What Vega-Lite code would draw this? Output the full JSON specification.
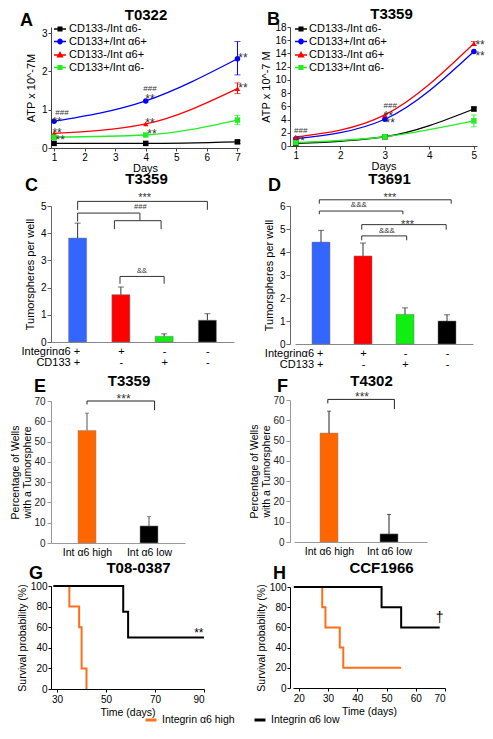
{
  "$schema": "https://vega.github.io/schema/vega-lite/v6.json",
  "padding": {"left": 10, "top": 7, "right": 2, "bottom": 2},
  "columns": 2,
  "bounds": "flush",
  "align": "each",
  "spacing": {"row": 43, "column": 51},
  "resolve": {
    "scale": {"color": "independent", "shape": "independent"},
    "legend": {"color": "independent", "shape": "independent"}
  },
  "config": {
    "font": "Liberation Sans",
    "view": {"stroke": null},
    "axis": {"grid": false, "labelOverlap": false, "labelFontSize": 10, "titleFontSize": 11, "titleFontWeight": "normal", "labelColor": "#000", "titleColor": "#000", "domainColor": "#444", "tickColor": "#444", "tickSize": 3, "labelPadding": 2, "titlePadding": 4},
    "title": {"fontSize": 15, "fontWeight": "bold", "color": "#000", "frame": "group", "baseline": "alphabetic", "anchor": "middle"},
    "legend": {"labelFont": "Liberation Sans", "labelColor": "#000"}
  },
  "datasets": {
    "atpA": [
      {"series": "CD133-/Int α6-", "x": 1, "y": 0.12},
      {"series": "CD133-/Int α6-", "x": 4, "y": 0.12},
      {"series": "CD133-/Int α6-", "x": 7, "y": 0.16, "lo": 0.12, "hi": 0.2},
      {"series": "CD133+/Int α6+", "x": 1, "y": 0.7},
      {"series": "CD133+/Int α6+", "x": 4, "y": 1.23},
      {"series": "CD133+/Int α6+", "x": 7, "y": 2.33, "lo": 1.91, "hi": 2.78},
      {"series": "CD133-/Int α6+", "x": 1, "y": 0.38},
      {"series": "CD133-/Int α6+", "x": 4, "y": 0.63},
      {"series": "CD133-/Int α6+", "x": 7, "y": 1.55, "lo": 1.42, "hi": 1.7},
      {"series": "CD133+/Int α6-", "x": 1, "y": 0.28},
      {"series": "CD133+/Int α6-", "x": 4, "y": 0.34},
      {"series": "CD133+/Int α6-", "x": 7, "y": 0.73, "lo": 0.61, "hi": 0.85}
    ],
    "annA": [
      {"x": 1.1, "y": 0.77, "t": "**"},
      {"x": 1.1, "y": 0.46, "t": "**"},
      {"x": 1.2, "y": 0.29, "t": "**"},
      {"x": 4.14, "y": 1.35, "t": "**"},
      {"x": 4.14, "y": 0.72, "t": "**"},
      {"x": 4.2, "y": 0.44, "t": "**"},
      {"x": 7.18, "y": 2.42, "t": "**"},
      {"x": 7.18, "y": 1.64, "t": "**"},
      {"x": 1.26, "y": 0.91, "t": "###"},
      {"x": 4.14, "y": 1.53, "t": "###"}
    ],
    "atpB": [
      {"series": "CD133-/Int α6-", "x": 1, "y": 0.4},
      {"series": "CD133-/Int α6-", "x": 3, "y": 1.4},
      {"series": "CD133-/Int α6-", "x": 5, "y": 5.6, "lo": 5.3, "hi": 5.9},
      {"series": "CD133+/Int α6+", "x": 1, "y": 1.1},
      {"series": "CD133+/Int α6+", "x": 3, "y": 4.05},
      {"series": "CD133+/Int α6+", "x": 5, "y": 14.3},
      {"series": "CD133-/Int α6+", "x": 1, "y": 1.35},
      {"series": "CD133-/Int α6+", "x": 3, "y": 4.7},
      {"series": "CD133-/Int α6+", "x": 5, "y": 15.5, "lo": 15.2, "hi": 15.8},
      {"series": "CD133+/Int α6-", "x": 1, "y": 0.5},
      {"series": "CD133+/Int α6-", "x": 3, "y": 1.4},
      {"series": "CD133+/Int α6-", "x": 5, "y": 3.8, "lo": 2.9, "hi": 4.7}
    ],
    "annB": [
      {"x": 1.1, "y": 1.2, "t": "**"},
      {"x": 3.08, "y": 5.0, "t": "**"},
      {"x": 3.12, "y": 4.0, "t": "**"},
      {"x": 5.14, "y": 15.7, "t": "**"},
      {"x": 5.14, "y": 14.0, "t": "**"},
      {"x": 1.11, "y": 2.2, "t": "###"},
      {"x": 3.12, "y": 6.0, "t": "###"}
    ],
    "barsC": [
      {"x": 1, "y": 3.82, "hi": 4.37, "g": "a"},
      {"x": 2, "y": 1.74, "hi": 2.02, "g": "b"},
      {"x": 3, "y": 0.21, "hi": 0.3, "g": "c"},
      {"x": 4, "y": 0.8, "hi": 1.04, "g": "d"}
    ],
    "brC": [
      {"x": 1, "x2": 4, "y": 5.17, "y2": 5.17},
      {"x": 1, "x2": 1, "y": 5.17, "y2": 4.86},
      {"x": 4, "x2": 4, "y": 5.17, "y2": 4.86},
      {"x": 1, "x2": 2.44, "y": 4.74, "y2": 4.74},
      {"x": 1, "x2": 1, "y": 4.74, "y2": 4.43},
      {"x": 2.44, "x2": 2.44, "y": 4.74, "y2": 4.46},
      {"x": 1.85, "x2": 2.93, "y": 4.46, "y2": 4.46},
      {"x": 1.85, "x2": 1.85, "y": 4.46, "y2": 4.15},
      {"x": 2.93, "x2": 2.93, "y": 4.46, "y2": 4.15},
      {"x": 1.98, "x2": 3.0, "y": 2.41, "y2": 2.41},
      {"x": 1.98, "x2": 1.98, "y": 2.41, "y2": 2.14},
      {"x": 3.0, "x2": 3.0, "y": 2.41, "y2": 2.14}
    ],
    "txtC": [
      {"x": 2.55, "y": 5.42, "t": "***"},
      {"x": 2.45, "y": 4.95, "t": "###"},
      {"x": 2.49, "y": 2.6, "t": "&&"}
    ],
    "barsD": [
      {"x": 1, "y": 4.43, "hi": 4.94, "g": "a"},
      {"x": 2, "y": 3.83, "hi": 4.39, "g": "b"},
      {"x": 3, "y": 1.29, "hi": 1.57, "g": "c"},
      {"x": 4, "y": 1.0, "hi": 1.27, "g": "d"}
    ],
    "brD": [
      {"x": 0.96, "x2": 4.1, "y": 6.27, "y2": 6.27},
      {"x": 0.96, "x2": 0.96, "y": 6.27, "y2": 6.1},
      {"x": 4.1, "x2": 4.1, "y": 6.27, "y2": 6.1},
      {"x": 0.96, "x2": 2.95, "y": 5.78, "y2": 5.78},
      {"x": 0.96, "x2": 0.96, "y": 5.78, "y2": 5.64},
      {"x": 2.95, "x2": 2.95, "y": 5.78, "y2": 5.64},
      {"x": 1.97, "x2": 3.98, "y": 5.19, "y2": 5.19},
      {"x": 1.97, "x2": 1.97, "y": 5.19, "y2": 4.97},
      {"x": 3.98, "x2": 3.98, "y": 5.19, "y2": 4.97},
      {"x": 1.97, "x2": 3.04, "y": 4.7, "y2": 4.7},
      {"x": 1.97, "x2": 1.97, "y": 4.7, "y2": 4.51},
      {"x": 3.04, "x2": 3.04, "y": 4.7, "y2": 4.51}
    ],
    "txtD": [
      {"x": 2.64, "y": 6.47, "t": "***"},
      {"x": 1.9, "y": 6.03, "t": "&&&"},
      {"x": 3.06, "y": 5.3, "t": "***"},
      {"x": 2.57, "y": 4.9, "t": "&&&"}
    ],
    "barsE": [
      {"x": 1, "y": 55.5, "hi": 64, "g": "h"},
      {"x": 2, "y": 8.4, "hi": 13, "g": "l"}
    ],
    "brE": [
      {"x": 1, "x2": 2.09, "y": 70, "y2": 70},
      {"x": 1, "x2": 1, "y": 70, "y2": 68.3},
      {"x": 2.09, "x2": 2.09, "y": 70, "y2": 65.5}
    ],
    "txtE": [{"x": 1.59, "y": 72.5, "t": "***"}],
    "barsF": [
      {"x": 1, "y": 53.7, "hi": 64.5, "g": "h"},
      {"x": 2, "y": 4, "hi": 13.6, "g": "l"}
    ],
    "brF": [
      {"x": 0.98, "x2": 2.09, "y": 70.3, "y2": 70.3},
      {"x": 0.98, "x2": 0.98, "y": 70.3, "y2": 68.3},
      {"x": 2.09, "x2": 2.09, "y": 70.3, "y2": 65.5}
    ],
    "txtF": [{"x": 1.55, "y": 72.8, "t": "***"}],
    "survG": [
      {"grp": "Integrin α6 high", "x": 28.5, "y": 100},
      {"grp": "Integrin α6 high", "x": 35, "y": 80},
      {"grp": "Integrin α6 high", "x": 39, "y": 60},
      {"grp": "Integrin α6 high", "x": 40, "y": 20},
      {"grp": "Integrin α6 high", "x": 42, "y": 0},
      {"grp": "Integrin α6 low", "x": 28.5, "y": 100},
      {"grp": "Integrin α6 low", "x": 57, "y": 75},
      {"grp": "Integrin α6 low", "x": 59, "y": 50},
      {"grp": "Integrin α6 low", "x": 90, "y": 50}
    ],
    "survH": [
      {"grp": "Integrin α6 high", "x": 18.3, "y": 100},
      {"grp": "Integrin α6 high", "x": 28, "y": 80},
      {"grp": "Integrin α6 high", "x": 29.1, "y": 60},
      {"grp": "Integrin α6 high", "x": 34, "y": 40},
      {"grp": "Integrin α6 high", "x": 35.2, "y": 20},
      {"grp": "Integrin α6 high", "x": 55, "y": 20},
      {"grp": "Integrin α6 low", "x": 18.3, "y": 100},
      {"grp": "Integrin α6 low", "x": 48.3, "y": 80},
      {"grp": "Integrin α6 low", "x": 55, "y": 60},
      {"grp": "Integrin α6 low", "x": 68.2, "y": 60}
    ]
  },
  "concat": [
    {
      "width": 188, "height": 121,
      "title": {"text": "T0322", "offset": -11, "dx": 1},
      "resolve": {"scale": {"color": "independent", "shape": "independent"}, "legend": {"color": "independent", "shape": "independent"}},
      "layer": [
        {"data": {"name": "atpA"}, "mark": {"type": "line", "interpolate": "monotone", "strokeWidth": 1.3},
         "encoding": {
           "x": {"field": "x", "type": "quantitative", "scale": {"domain": [0.9, 7.05], "nice": false, "zero": false}, "axis": {"title": "Days", "values": [1, 2, 3, 4, 5, 6, 7], "format": "d", "tickCount": 20, "labelOverlap": false, "labelPadding": 1, "titlePadding": 0}},
           "y": {"field": "y", "type": "quantitative", "scale": {"domain": [0, 3.16], "nice": false}, "axis": {"title": "ATP x 10^-7M", "values": [0, 1, 2, 3], "format": "d", "tickCount": 20, "labelOverlap": false, "labelPadding": 1, "titlePadding": 5}},
           "color": {"field": "series", "type": "nominal", "scale": {"domain": ["CD133-/Int α6-", "CD133+/Int α6+", "CD133-/Int α6+", "CD133+/Int α6-"], "range": ["#000000", "#0000ff", "#ff0000", "#22ee22"]}, "legend": null}
         }},
        {"data": {"name": "atpA"}, "transform": [{"filter": "isValid(datum.lo)"}], "mark": {"type": "rule", "strokeWidth": 1},
         "encoding": {"x": {"field": "x", "type": "quantitative"}, "y": {"field": "lo", "type": "quantitative"}, "y2": {"field": "hi"},
           "color": {"field": "series", "type": "nominal", "scale": {"domain": ["CD133-/Int α6-", "CD133+/Int α6+", "CD133-/Int α6+", "CD133+/Int α6-"], "range": ["#000000", "#0000ff", "#ff0000", "#22ee22"]}, "legend": null}}},
        {"data": {"name": "atpA"}, "transform": [{"filter": "isValid(datum.lo)"}], "mark": {"type": "tick", "orient": "horizontal", "size": 6, "thickness": 1},
         "encoding": {"x": {"field": "x", "type": "quantitative"}, "y": {"field": "lo", "type": "quantitative"},
           "color": {"field": "series", "type": "nominal", "scale": {"domain": ["CD133-/Int α6-", "CD133+/Int α6+", "CD133-/Int α6+", "CD133+/Int α6-"], "range": ["#000000", "#0000ff", "#ff0000", "#22ee22"]}, "legend": null}}},
        {"data": {"name": "atpA"}, "transform": [{"filter": "isValid(datum.hi)"}], "mark": {"type": "tick", "orient": "horizontal", "size": 6, "thickness": 1},
         "encoding": {"x": {"field": "x", "type": "quantitative"}, "y": {"field": "hi", "type": "quantitative"},
           "color": {"field": "series", "type": "nominal", "scale": {"domain": ["CD133-/Int α6-", "CD133+/Int α6+", "CD133-/Int α6+", "CD133+/Int α6-"], "range": ["#000000", "#0000ff", "#ff0000", "#22ee22"]}, "legend": null}}},
        {"data": {"name": "atpA"}, "mark": {"type": "point", "filled": true, "size": 30, "opacity": 1},
         "encoding": {"x": {"field": "x", "type": "quantitative"}, "y": {"field": "y", "type": "quantitative"},
           "color": {"field": "series", "type": "nominal", "scale": {"domain": ["CD133-/Int α6-", "CD133+/Int α6+", "CD133-/Int α6+", "CD133+/Int α6-"], "range": ["#000000", "#0000ff", "#ff0000", "#22ee22"]}, "legend": null},
           "shape": {"field": "series", "type": "nominal", "scale": {"domain": ["CD133-/Int α6-", "CD133+/Int α6+", "CD133-/Int α6+", "CD133+/Int α6-"], "range": ["square", "circle", "triangle-up", "square"]}, "legend": null}}},
        {"data": {"name": "atpA"}, "mark": {"type": "point", "filled": false, "opacity": 0, "strokeWidth": 1.5},
         "encoding": {
           "x": {"field": "x", "type": "quantitative"},
           "y": {"field": "y", "type": "quantitative"},
           "color": {"field": "series", "type": "nominal", "scale": {"domain": ["CD133-/Int α6-", "CD133+/Int α6+", "CD133-/Int α6+", "CD133+/Int α6-"], "range": ["#000000", "#0000ff", "#ff0000", "#22ee22"]},
             "legend": {"title": null, "orient": "none", "legendX": 2, "legendY": -5, "labelFontSize": 11, "symbolSize": 144, "symbolStrokeWidth": 1.5, "symbolOpacity": 1, "rowPadding": 0.5, "labelOffset": 2, "padding": 0}},
           "shape": {"field": "series", "type": "nominal", "scale": {"domain": ["CD133-/Int α6-", "CD133+/Int α6+", "CD133-/Int α6+", "CD133+/Int α6-"], "range": ["M-1,0H1M-0.3,-0.3H0.3V0.3H-0.3ZM-0.3,-0.12H0.3M-0.3,0.12H0.3", "M-1,0H1M0.36,0A0.36,0.36,0,1,1,-0.36,0A0.36,0.36,0,1,1,0.36,0M-0.25,-0.15H0.25M-0.25,0.15H0.25", "M-1,0H1M0,-0.4L0.38,0.28H-0.38ZM-0.2,0.12H0.2M-0.1,-0.08H0.1", "M-1,0H1M-0.3,-0.3H0.3V0.3H-0.3ZM-0.3,-0.12H0.3M-0.3,0.12H0.3"]},
             "legend": {"title": null, "orient": "none", "legendX": 2, "legendY": -5, "labelFontSize": 11, "symbolSize": 144, "symbolStrokeWidth": 1.5, "symbolOpacity": 1, "rowPadding": 0.5, "labelOffset": 2, "padding": 0}}
         }},
        {"data": {"name": "annA"}, "transform": [{"filter": "indexof(datum.t, '*') >= 0"}], "mark": {"type": "text", "fontSize": 12, "dy": 3, "color": "#333"},
         "encoding": {"x": {"field": "x", "type": "quantitative"}, "y": {"field": "y", "type": "quantitative"}, "text": {"field": "t"}}},
        {"data": {"name": "annA"}, "transform": [{"filter": "indexof(datum.t, '*') < 0"}], "mark": {"type": "text", "fontSize": 8, "color": "#333"},
         "encoding": {"x": {"field": "x", "type": "quantitative"}, "y": {"field": "y", "type": "quantitative"}, "text": {"field": "t"}}},
        {"data": {"values": [{"t": "A"}]}, "mark": {"type": "text", "align": "left", "baseline": "alphabetic", "fontSize": 18, "fontWeight": "bold", "dx": -31, "dy": -1},
         "encoding": {"x": {"datum": 0.9, "type": "quantitative"}, "y": {"datum": 3.16, "type": "quantitative"}, "text": {"field": "t"}}}
      ]
    },
    {
      "width": 187, "height": 119,
      "title": {"text": "T3359", "offset": -11, "dx": 8},
      "resolve": {"scale": {"color": "independent", "shape": "independent"}, "legend": {"color": "independent", "shape": "independent"}},
      "layer": [
        {"data": {"name": "atpB"}, "mark": {"type": "line", "interpolate": "monotone", "strokeWidth": 1.3},
         "encoding": {
           "x": {"field": "x", "type": "quantitative", "scale": {"domain": [0.87, 5.07], "nice": false, "zero": false}, "axis": {"title": "Days", "values": [1, 2, 3, 4, 5], "format": "d", "tickCount": 20, "labelOverlap": false, "labelPadding": 1, "titlePadding": 0}},
           "y": {"field": "y", "type": "quantitative", "scale": {"domain": [0, 18], "nice": false}, "axis": {"title": "ATP x 10^-7 M", "values": [0, 2, 4, 6, 8, 10, 12, 14, 16, 18], "format": "d", "tickCount": 20, "labelOverlap": false, "labelPadding": 1, "titlePadding": 3}},
           "color": {"field": "series", "type": "nominal", "scale": {"domain": ["CD133-/Int α6-", "CD133+/Int α6+", "CD133-/Int α6+", "CD133+/Int α6-"], "range": ["#000000", "#0000ff", "#ff0000", "#22ee22"]}, "legend": null}
         }},
        {"data": {"name": "atpB"}, "transform": [{"filter": "isValid(datum.lo)"}], "mark": {"type": "rule", "strokeWidth": 1},
         "encoding": {"x": {"field": "x", "type": "quantitative"}, "y": {"field": "lo", "type": "quantitative"}, "y2": {"field": "hi"},
           "color": {"field": "series", "type": "nominal", "scale": {"domain": ["CD133-/Int α6-", "CD133+/Int α6+", "CD133-/Int α6+", "CD133+/Int α6-"], "range": ["#000000", "#0000ff", "#ff0000", "#22ee22"]}, "legend": null}}},
        {"data": {"name": "atpB"}, "transform": [{"filter": "isValid(datum.lo)"}], "mark": {"type": "tick", "orient": "horizontal", "size": 6, "thickness": 1},
         "encoding": {"x": {"field": "x", "type": "quantitative"}, "y": {"field": "lo", "type": "quantitative"},
           "color": {"field": "series", "type": "nominal", "scale": {"domain": ["CD133-/Int α6-", "CD133+/Int α6+", "CD133-/Int α6+", "CD133+/Int α6-"], "range": ["#000000", "#0000ff", "#ff0000", "#22ee22"]}, "legend": null}}},
        {"data": {"name": "atpB"}, "transform": [{"filter": "isValid(datum.hi)"}], "mark": {"type": "tick", "orient": "horizontal", "size": 6, "thickness": 1},
         "encoding": {"x": {"field": "x", "type": "quantitative"}, "y": {"field": "hi", "type": "quantitative"},
           "color": {"field": "series", "type": "nominal", "scale": {"domain": ["CD133-/Int α6-", "CD133+/Int α6+", "CD133-/Int α6+", "CD133+/Int α6-"], "range": ["#000000", "#0000ff", "#ff0000", "#22ee22"]}, "legend": null}}},
        {"data": {"name": "atpB"}, "mark": {"type": "point", "filled": true, "size": 30, "opacity": 1},
         "encoding": {"x": {"field": "x", "type": "quantitative"}, "y": {"field": "y", "type": "quantitative"},
           "color": {"field": "series", "type": "nominal", "scale": {"domain": ["CD133-/Int α6-", "CD133+/Int α6+", "CD133-/Int α6+", "CD133+/Int α6-"], "range": ["#000000", "#0000ff", "#ff0000", "#22ee22"]}, "legend": null},
           "shape": {"field": "series", "type": "nominal", "scale": {"domain": ["CD133-/Int α6-", "CD133+/Int α6+", "CD133-/Int α6+", "CD133+/Int α6-"], "range": ["square", "circle", "triangle-up", "square"]}, "legend": null}}},
        {"data": {"name": "atpB"}, "mark": {"type": "point", "filled": false, "opacity": 0, "strokeWidth": 1.5},
         "encoding": {
           "x": {"field": "x", "type": "quantitative"},
           "y": {"field": "y", "type": "quantitative"},
           "color": {"field": "series", "type": "nominal", "scale": {"domain": ["CD133-/Int α6-", "CD133+/Int α6+", "CD133-/Int α6+", "CD133+/Int α6-"], "range": ["#000000", "#0000ff", "#ff0000", "#22ee22"]},
             "legend": {"title": null, "orient": "none", "legendX": 4, "legendY": -5, "labelFontSize": 11, "symbolSize": 144, "symbolStrokeWidth": 1.5, "symbolOpacity": 1, "rowPadding": 0.5, "labelOffset": 1, "padding": 0}},
           "shape": {"field": "series", "type": "nominal", "scale": {"domain": ["CD133-/Int α6-", "CD133+/Int α6+", "CD133-/Int α6+", "CD133+/Int α6-"], "range": ["M-1,0H1M-0.3,-0.3H0.3V0.3H-0.3ZM-0.3,-0.12H0.3M-0.3,0.12H0.3", "M-1,0H1M0.36,0A0.36,0.36,0,1,1,-0.36,0A0.36,0.36,0,1,1,0.36,0M-0.25,-0.15H0.25M-0.25,0.15H0.25", "M-1,0H1M0,-0.4L0.38,0.28H-0.38ZM-0.2,0.12H0.2M-0.1,-0.08H0.1", "M-1,0H1M-0.3,-0.3H0.3V0.3H-0.3ZM-0.3,-0.12H0.3M-0.3,0.12H0.3"]},
             "legend": {"title": null, "orient": "none", "legendX": 4, "legendY": -5, "labelFontSize": 11, "symbolSize": 144, "symbolStrokeWidth": 1.5, "symbolOpacity": 1, "rowPadding": 0.5, "labelOffset": 1, "padding": 0}}
         }},
        {"data": {"name": "annB"}, "transform": [{"filter": "indexof(datum.t, '*') >= 0"}], "mark": {"type": "text", "fontSize": 12, "dy": 3, "color": "#333"},
         "encoding": {"x": {"field": "x", "type": "quantitative"}, "y": {"field": "y", "type": "quantitative"}, "text": {"field": "t"}}},
        {"data": {"name": "annB"}, "transform": [{"filter": "indexof(datum.t, '*') < 0"}], "mark": {"type": "text", "fontSize": 8, "color": "#333"},
         "encoding": {"x": {"field": "x", "type": "quantitative"}, "y": {"field": "y", "type": "quantitative"}, "text": {"field": "t"}}},
        {"data": {"values": [{"t": "B"}]}, "mark": {"type": "text", "align": "left", "baseline": "alphabetic", "fontSize": 18, "fontWeight": "bold", "dx": -23, "dy": -2},
         "encoding": {"x": {"datum": 0.87, "type": "quantitative"}, "y": {"datum": 18, "type": "quantitative"}, "text": {"field": "t"}}}
      ]
    },
    {
      "width": 183, "height": 151,
      "title": {"text": "T3359", "offset": -10, "dx": 4},
      "layer": [
        {"data": {"name": "barsC"}, "mark": {"type": "bar", "orient": "vertical", "width": 18, "stroke": "#777", "strokeWidth": 0.5},
         "encoding": {
           "x": {"field": "x", "type": "quantitative", "scale": {"domain": [0.5, 4.5], "nice": false, "zero": false}, "axis": {"title": null, "values": [1, 2, 3, 4], "tickCount": 20, "labelOverlap": false, "ticks": false, "domainColor": "#888", "labelFontSize": 11, "labelLineHeight": 11, "labelPadding": 3, "labelFlush": false, "labelBound": false,
             "labelExpr": "datum.value == 1 ? ['Integrinα6 +', 'CD133 +'] : datum.value == 2 ? ['+', '-'] : datum.value == 3 ? ['-', '+'] : ['-', '-']",
             "labelAlign": {"condition": {"test": "datum.value == 1", "value": "right"}, "value": "center"},
             "labelOffset": {"condition": {"test": "datum.value == 1", "value": 2}, "value": 0}}},
           "y": {"field": "y", "type": "quantitative", "scale": {"domain": [0, 5], "range": [151, 15], "nice": false}, "axis": {"title": "Tumorspheres per well", "values": [0, 1, 2, 3, 4, 5], "format": "d", "tickCount": 20, "labelOverlap": false, "tickSize": 4, "labelPadding": 1, "titlePadding": 5, "domainColor": "#666", "tickColor": "#666"}},
           "color": {"field": "g", "type": "nominal", "scale": {"domain": ["a", "b", "c", "d"], "range": ["#3366ff", "#ff0000", "#11ee11", "#000000"]}, "legend": null}
         }},
        {"data": {"name": "barsC"}, "mark": {"type": "rule", "color": "#333"},
         "encoding": {"x": {"field": "x", "type": "quantitative"}, "y": {"field": "y", "type": "quantitative"}, "y2": {"field": "hi"}}},
        {"data": {"name": "barsC"}, "mark": {"type": "tick", "orient": "horizontal", "size": 6, "thickness": 1, "color": "#333"},
         "encoding": {"x": {"field": "x", "type": "quantitative"}, "y": {"field": "hi", "type": "quantitative"}}},
        {"data": {"name": "brC"}, "mark": {"type": "rule", "color": "#333", "strokeWidth": 1},
         "encoding": {"x": {"field": "x", "type": "quantitative"}, "x2": {"field": "x2"}, "y": {"field": "y", "type": "quantitative"}, "y2": {"field": "y2"}}},
        {"data": {"name": "txtC"}, "transform": [{"filter": "indexof(datum.t, '*') >= 0"}], "mark": {"type": "text", "fontSize": 11, "dy": 3, "color": "#333"},
         "encoding": {"x": {"field": "x", "type": "quantitative"}, "y": {"field": "y", "type": "quantitative"}, "text": {"field": "t"}}},
        {"data": {"name": "txtC"}, "transform": [{"filter": "indexof(datum.t, '*') < 0"}], "mark": {"type": "text", "fontSize": 7.5, "color": "#333"},
         "encoding": {"x": {"field": "x", "type": "quantitative"}, "y": {"field": "y", "type": "quantitative"}, "text": {"field": "t"}}},
        {"data": {"values": [{"t": "C"}]}, "mark": {"type": "text", "align": "left", "baseline": "alphabetic", "fontSize": 18, "fontWeight": "bold", "dx": -31, "dy": -15},
         "encoding": {"x": {"datum": 0.5, "type": "quantitative"}, "y": {"datum": 5, "type": "quantitative"}, "text": {"field": "t"}}}
      ]
    },
    {
      "width": 183, "height": 153,
      "title": {"text": "T3691", "offset": -10, "dx": 8},
      "layer": [
        {"data": {"name": "barsD"}, "mark": {"type": "bar", "orient": "vertical", "width": 18, "stroke": "#777", "strokeWidth": 0.5},
         "encoding": {
           "x": {"field": "x", "type": "quantitative", "scale": {"domain": [0.5, 4.5], "range": [5, 183], "nice": false, "zero": false}, "axis": {"title": null, "values": [1, 2, 3, 4], "tickCount": 20, "labelOverlap": false, "ticks": false, "domainColor": "#888", "labelFontSize": 11, "labelLineHeight": 11, "labelPadding": 3, "labelFlush": false, "labelBound": false,
             "labelExpr": "datum.value == 1 ? ['Integrinα6 +', 'CD133 +'] : datum.value == 2 ? ['+', '-'] : datum.value == 3 ? ['-', '+'] : ['-', '-']",
             "labelAlign": {"condition": {"test": "datum.value == 1", "value": "right"}, "value": "center"},
             "labelOffset": {"condition": {"test": "datum.value == 1", "value": 2}, "value": 0}}},
           "y": {"field": "y", "type": "quantitative", "scale": {"domain": [0, 6], "range": [153, 15], "nice": false}, "axis": {"title": "Tumorspheres per well", "values": [0, 1, 2, 3, 4, 5, 6], "format": "d", "tickCount": 20, "labelOverlap": false, "tickSize": 4, "labelPadding": 1, "titlePadding": 5, "domainColor": "#666", "tickColor": "#666"}},
           "color": {"field": "g", "type": "nominal", "scale": {"domain": ["a", "b", "c", "d"], "range": ["#3366ff", "#ff0000", "#11ee11", "#000000"]}, "legend": null}
         }},
        {"data": {"name": "barsD"}, "mark": {"type": "rule", "color": "#333"},
         "encoding": {"x": {"field": "x", "type": "quantitative"}, "y": {"field": "y", "type": "quantitative"}, "y2": {"field": "hi"}}},
        {"data": {"name": "barsD"}, "mark": {"type": "tick", "orient": "horizontal", "size": 6, "thickness": 1, "color": "#333"},
         "encoding": {"x": {"field": "x", "type": "quantitative"}, "y": {"field": "hi", "type": "quantitative"}}},
        {"data": {"name": "brD"}, "mark": {"type": "rule", "color": "#333", "strokeWidth": 1},
         "encoding": {"x": {"field": "x", "type": "quantitative"}, "x2": {"field": "x2"}, "y": {"field": "y", "type": "quantitative"}, "y2": {"field": "y2"}}},
        {"data": {"name": "txtD"}, "transform": [{"filter": "indexof(datum.t, '*') >= 0"}], "mark": {"type": "text", "fontSize": 11, "dy": 3, "color": "#333"},
         "encoding": {"x": {"field": "x", "type": "quantitative"}, "y": {"field": "y", "type": "quantitative"}, "text": {"field": "t"}}},
        {"data": {"name": "txtD"}, "transform": [{"filter": "indexof(datum.t, '*') < 0"}], "mark": {"type": "text", "fontSize": 8, "color": "#333"},
         "encoding": {"x": {"field": "x", "type": "quantitative"}, "y": {"field": "y", "type": "quantitative"}, "text": {"field": "t"}}},
        {"data": {"values": [{"t": "D"}]}, "mark": {"type": "text", "align": "left", "baseline": "alphabetic", "fontSize": 18, "fontWeight": "bold", "dx": -32, "dy": -15},
         "encoding": {"x": {"datum": 0.5, "type": "quantitative"}, "y": {"datum": 6, "type": "quantitative"}, "text": {"field": "t"}}}
      ]
    },
    {
      "width": 134, "height": 156,
      "title": {"text": "T3359", "offset": -11, "dx": 11},
      "layer": [
        {"data": {"name": "barsE"}, "mark": {"type": "bar", "orient": "vertical", "width": 18, "stroke": "#888", "strokeWidth": 0.5},
         "encoding": {
           "x": {"field": "x", "type": "quantitative", "scale": {"domain": [0.5, 2.5], "nice": false, "zero": false}, "axis": {"title": null, "values": [1, 2], "tickCount": 20, "labelOverlap": false, "ticks": false, "domainColor": "#999", "labelFontSize": 10.5, "labelPadding": 4, "labelFlush": false, "labelExpr": "datum.value == 1 ? 'Int α6 high' : 'Int α6 low'"}},
           "y": {"field": "y", "type": "quantitative", "scale": {"domain": [0, 70], "range": [156, 14], "nice": false}, "axis": {"title": ["Percentage of Wells", "with a Tumorsphere"], "titleFontSize": 10.5, "values": [0, 10, 20, 30, 40, 50, 60, 70], "format": "d", "tickCount": 20, "labelOverlap": false, "tickSize": 4, "labelPadding": 2, "titlePadding": 1, "domainColor": "#999", "tickColor": "#999", "labelColor": "#222"}},
           "color": {"field": "g", "type": "nominal", "scale": {"domain": ["h", "l"], "range": ["#ff6600", "#000000"]}, "legend": null}
         }},
        {"data": {"name": "barsE"}, "mark": {"type": "rule", "color": "#555"},
         "encoding": {"x": {"field": "x", "type": "quantitative"}, "y": {"field": "y", "type": "quantitative"}, "y2": {"field": "hi"}}},
        {"data": {"name": "barsE"}, "mark": {"type": "tick", "orient": "horizontal", "size": 4, "thickness": 1, "color": "#555"},
         "encoding": {"x": {"field": "x", "type": "quantitative"}, "y": {"field": "hi", "type": "quantitative"}}},
        {"data": {"name": "brE"}, "mark": {"type": "rule", "color": "#222", "strokeWidth": 1},
         "encoding": {"x": {"field": "x", "type": "quantitative"}, "x2": {"field": "x2"}, "y": {"field": "y", "type": "quantitative"}, "y2": {"field": "y2"}}},
        {"data": {"name": "txtE"}, "mark": {"type": "text", "fontSize": 12, "dy": 3, "color": "#333"},
         "encoding": {"x": {"field": "x", "type": "quantitative"}, "y": {"field": "y", "type": "quantitative"}, "text": {"field": "t"}}},
        {"data": {"values": [{"t": "E"}]}, "mark": {"type": "text", "align": "left", "baseline": "alphabetic", "fontSize": 18, "fontWeight": "bold", "dx": -22, "dy": -9},
         "encoding": {"x": {"datum": 0.5, "type": "quantitative"}, "y": {"datum": 70, "type": "quantitative"}, "text": {"field": "t"}}}
      ]
    },
    {
      "width": 137, "height": 155,
      "title": {"text": "T4302", "offset": -11, "dx": 13},
      "layer": [
        {"data": {"name": "barsF"}, "mark": {"type": "bar", "orient": "vertical", "width": 18, "stroke": "#888", "strokeWidth": 0.5},
         "encoding": {
           "x": {"field": "x", "type": "quantitative", "scale": {"domain": [0.5, 2.55], "range": [4, 137], "nice": false, "zero": false}, "axis": {"title": null, "values": [1, 2], "tickCount": 20, "labelOverlap": false, "ticks": false, "domainColor": "#999", "labelFontSize": 10.5, "labelPadding": 4, "labelFlush": false, "labelExpr": "datum.value == 1 ? 'Int α6 high' : 'Int α6 low'"}},
           "y": {"field": "y", "type": "quantitative", "scale": {"domain": [0, 70], "range": [155, 13], "nice": false}, "axis": {"title": ["Percentage of Wells", "with a Tumorsphere"], "titleFontSize": 10.5, "values": [0, 10, 20, 30, 40, 50, 60, 70], "format": "d", "tickCount": 20, "labelOverlap": false, "tickSize": 4, "labelPadding": 2, "titlePadding": 1, "domainColor": "#999", "tickColor": "#999", "labelColor": "#222"}},
           "color": {"field": "g", "type": "nominal", "scale": {"domain": ["h", "l"], "range": ["#ff6600", "#000000"]}, "legend": null}
         }},
        {"data": {"name": "barsF"}, "mark": {"type": "rule", "color": "#222"},
         "encoding": {"x": {"field": "x", "type": "quantitative"}, "y": {"field": "y", "type": "quantitative"}, "y2": {"field": "hi"}}},
        {"data": {"name": "barsF"}, "mark": {"type": "tick", "orient": "horizontal", "size": 4, "thickness": 1, "color": "#222"},
         "encoding": {"x": {"field": "x", "type": "quantitative"}, "y": {"field": "hi", "type": "quantitative"}}},
        {"data": {"name": "brF"}, "mark": {"type": "rule", "color": "#222", "strokeWidth": 1},
         "encoding": {"x": {"field": "x", "type": "quantitative"}, "x2": {"field": "x2"}, "y": {"field": "y", "type": "quantitative"}, "y2": {"field": "y2"}}},
        {"data": {"name": "txtF"}, "mark": {"type": "text", "fontSize": 12, "dy": 3, "color": "#333"},
         "encoding": {"x": {"field": "x", "type": "quantitative"}, "y": {"field": "y", "type": "quantitative"}, "text": {"field": "t"}}},
        {"data": {"values": [{"t": "F"}]}, "mark": {"type": "text", "align": "left", "baseline": "alphabetic", "fontSize": 18, "fontWeight": "bold", "dx": -22, "dy": -8},
         "encoding": {"x": {"datum": 0.5, "type": "quantitative"}, "y": {"datum": 70, "type": "quantitative"}, "text": {"field": "t"}}}
      ]
    },
    {
      "width": 153, "height": 103,
      "title": {"text": "T08-0387", "offset": -11, "dx": 11},
      "layer": [
        {"data": {"name": "survG"}, "mark": {"type": "line", "interpolate": "step-after", "strokeWidth": 2},
         "encoding": {
           "x": {"field": "x", "type": "quantitative", "scale": {"domain": [27.5, 90], "nice": false, "zero": false}, "axis": {"title": "Time (days)", "values": [30, 50, 70, 90], "format": "d", "tickCount": 20, "labelOverlap": false, "titleFontSize": 10.5, "domainColor": "#000", "tickColor": "#000", "titlePadding": 3}},
           "y": {"field": "y", "type": "quantitative", "scale": {"domain": [0, 100], "nice": false}, "axis": {"title": "Survival probability (%)", "titleFontSize": 10.5, "values": [0, 20, 40, 60, 80, 100], "format": "d", "tickCount": 20, "labelOverlap": false, "labelPadding": 1, "titlePadding": 3, "domainColor": "#000", "tickColor": "#000"}},
           "color": {"field": "grp", "type": "nominal", "scale": {"domain": ["Integrin α6 high", "Integrin α6 low"], "range": ["#ff6f1a", "#000000"]},
             "legend": {"title": null, "orient": "none", "direction": "horizontal", "legendX": 93, "legendY": 127, "labelFontSize": 10.5, "symbolType": "stroke", "symbolSize": 120, "symbolStrokeWidth": 3, "labelOffset": 4, "columnPadding": 13, "padding": 0}}
         }},
        {"data": {"values": [{"x": 87.9, "y": 57, "t": "**"}]}, "mark": {"type": "text", "fontSize": 12, "dy": 3, "color": "#000"},
         "encoding": {"x": {"field": "x", "type": "quantitative"}, "y": {"field": "y", "type": "quantitative"}, "text": {"field": "t"}}},
        {"data": {"values": [{"t": "G"}]}, "mark": {"type": "text", "align": "left", "baseline": "alphabetic", "fontSize": 18, "fontWeight": "bold", "dx": -22, "dy": -7},
         "encoding": {"x": {"datum": 27.5, "type": "quantitative"}, "y": {"datum": 100, "type": "quantitative"}, "text": {"field": "t"}}}
      ]
    },
    {
      "width": 155, "height": 102,
      "title": {"text": "CCF1966", "offset": -11, "dx": 14},
      "layer": [
        {"data": {"name": "survH"}, "mark": {"type": "line", "interpolate": "step-after", "strokeWidth": 2},
         "encoding": {
           "x": {"field": "x", "type": "quantitative", "scale": {"domain": [18, 70], "range": [3, 155], "nice": false, "zero": false}, "axis": {"title": "Time (days)", "values": [20, 30, 40, 50, 60, 70], "format": "d", "tickCount": 20, "labelOverlap": false, "titleFontSize": 10.5, "domainColor": "#000", "tickColor": "#000", "titlePadding": 3}},
           "y": {"field": "y", "type": "quantitative", "scale": {"domain": [0, 100], "range": [102, 1], "nice": false}, "axis": {"title": "Survival probability (%)", "titleFontSize": 10.5, "values": [0, 20, 40, 60, 80, 100], "format": "d", "tickCount": 20, "labelOverlap": false, "labelPadding": 1, "titlePadding": 3, "domainColor": "#000", "tickColor": "#000"}},
           "color": {"field": "grp", "type": "nominal", "scale": {"domain": ["Integrin α6 high", "Integrin α6 low"], "range": ["#ff6f1a", "#000000"]}, "legend": null}
         }},
        {"data": {"values": [{"x": 68.2, "y": 69, "t": "†"}]}, "mark": {"type": "text", "fontSize": 14, "color": "#000"},
         "encoding": {"x": {"field": "x", "type": "quantitative"}, "y": {"field": "y", "type": "quantitative"}, "text": {"field": "t"}}},
        {"data": {"values": [{"t": "H"}]}, "mark": {"type": "text", "align": "left", "baseline": "alphabetic", "fontSize": 18, "fontWeight": "bold", "dx": -20, "dy": -8},
         "encoding": {"x": {"datum": 18, "type": "quantitative"}, "y": {"datum": 100, "type": "quantitative"}, "text": {"field": "t"}}}
      ]
    }
  ]
}
